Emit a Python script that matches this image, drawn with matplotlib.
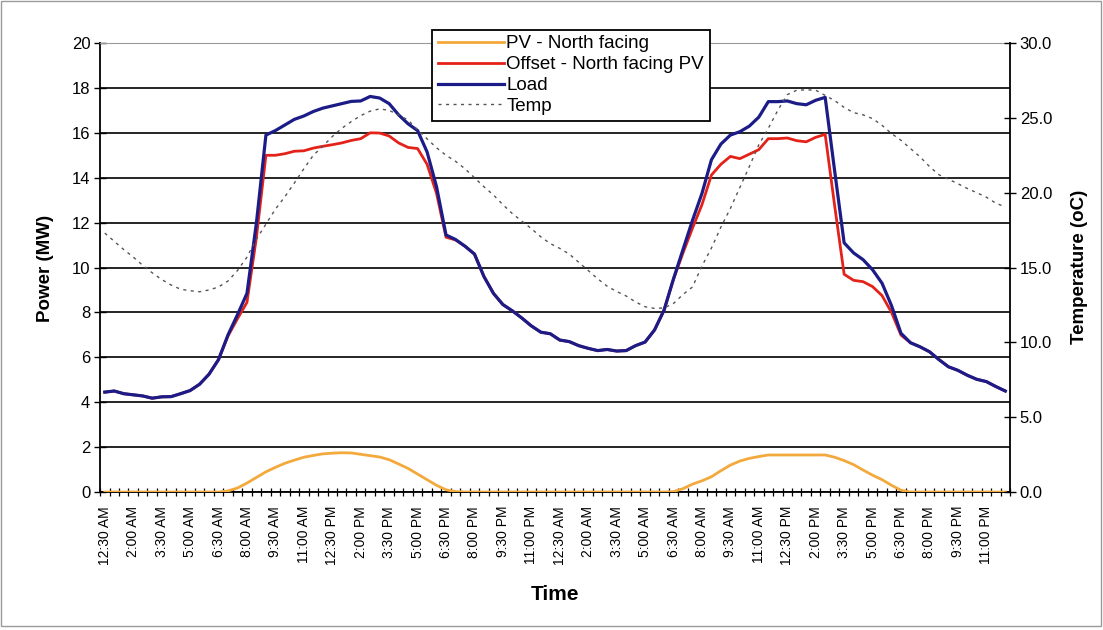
import matplotlib
matplotlib.use('Agg')
import matplotlib.pyplot as plt
from matplotlib.patches import Rectangle

plt.rcParams['font.family'] = ['Liberation Sans', 'DejaVu Sans']

# --- half-hourly data, two days (12:30 AM day 1 ... 12:00 AM day 3) ---
load_mw = [
    4.45, 4.50, 4.38, 4.33, 4.28, 4.18, 4.24, 4.25, 4.38, 4.52,
    4.80, 5.25, 5.90, 7.00, 7.90, 8.85, 12.00, 15.90, 16.10, 16.35,
    16.60, 16.75, 16.95, 17.10, 17.20, 17.30, 17.40, 17.42, 17.62, 17.55,
    17.30, 16.80, 16.40, 16.10, 15.15, 13.60, 11.45, 11.25, 10.95, 10.60,
    9.60, 8.85, 8.35, 8.07, 7.75, 7.40, 7.12, 7.05, 6.77, 6.70,
    6.52, 6.40, 6.30, 6.35, 6.28, 6.30, 6.52, 6.68, 7.22, 8.10,
    9.50, 10.80, 12.10, 13.30, 14.80, 15.50, 15.90, 16.05, 16.30, 16.70,
    17.39, 17.39, 17.42, 17.30, 17.25, 17.45, 17.58, 14.30, 11.10, 10.65,
    10.35, 9.90, 9.30, 8.30, 7.07, 6.65, 6.47, 6.25, 5.90, 5.58,
    5.42, 5.20, 5.02, 4.92, 4.70, 4.50,
]

pv_mw = [
    0, 0, 0, 0, 0, 0, 0, 0, 0, 0,
    0, 0, 0, 0.05, 0.18, 0.40, 0.65, 0.90, 1.10, 1.28,
    1.42, 1.55, 1.63, 1.70, 1.73, 1.75, 1.74, 1.68, 1.62, 1.56,
    1.44, 1.25, 1.05, 0.80, 0.55, 0.30, 0.10, 0.02, 0, 0,
    0, 0, 0, 0, 0, 0, 0, 0, 0, 0,
    0, 0, 0, 0, 0, 0, 0, 0, 0, 0,
    0.02, 0.15, 0.35, 0.50, 0.68, 0.95, 1.20, 1.38, 1.50, 1.58,
    1.65, 1.65, 1.65, 1.65, 1.65, 1.65, 1.65, 1.55, 1.40, 1.22,
    0.98, 0.75, 0.55, 0.30, 0.08, 0, 0, 0, 0, 0,
    0, 0, 0, 0, 0, 0,
]

offset_mw = [
    4.45, 4.50, 4.38, 4.33, 4.28, 4.18, 4.24, 4.25, 4.38, 4.52,
    4.80, 5.25, 5.90, 6.95, 7.72, 8.45, 11.35, 15.00, 15.00, 15.07,
    15.18, 15.20, 15.32, 15.40, 15.47, 15.55, 15.66, 15.74, 16.00, 15.99,
    15.86, 15.55, 15.35, 15.30, 14.60, 13.30, 11.35, 11.23, 10.95, 10.60,
    9.60, 8.85, 8.35, 8.07, 7.75, 7.40, 7.12, 7.05, 6.77, 6.70,
    6.52, 6.40, 6.30, 6.35, 6.28, 6.30, 6.52, 6.68, 7.22, 8.10,
    9.48, 10.65, 11.75, 12.80, 14.12, 14.60, 14.95, 14.85, 15.05, 15.25,
    15.74, 15.74, 15.77, 15.65, 15.60, 15.80, 15.93, 12.75, 9.70, 9.43,
    9.37, 9.15, 8.75, 8.00, 6.99, 6.65, 6.47, 6.25, 5.90, 5.58,
    5.42, 5.20, 5.02, 4.92, 4.70, 4.50,
]

temp_c = [
    17.30, 16.75, 16.20, 15.70, 15.15, 14.65, 14.20, 13.83, 13.55, 13.45,
    13.38, 13.50, 13.70, 14.10, 14.80, 15.70, 16.90, 17.90, 18.90, 19.73,
    20.65, 21.60, 22.50, 23.10, 23.75, 24.30, 24.75, 25.15, 25.45, 25.60,
    25.50, 25.20, 24.85, 24.20, 23.60, 23.00, 22.50, 22.10, 21.60, 21.00,
    20.40, 19.85, 19.20, 18.60, 18.10, 17.60, 17.05, 16.60, 16.28, 15.90,
    15.35, 14.80, 14.25, 13.75, 13.40, 13.10, 12.70, 12.38, 12.27, 12.30,
    12.60, 13.20, 13.70, 15.10, 16.30, 17.70, 18.95, 20.35, 21.75, 23.20,
    24.30, 25.50, 26.55, 26.85, 26.87, 26.85, 26.50, 26.15, 25.70, 25.35,
    25.20, 24.95, 24.50, 23.95, 23.50, 22.95, 22.40, 21.75, 21.20, 20.90,
    20.60, 20.28, 20.00, 19.70, 19.30, 19.05,
]

day_labels = ['12:30 AM', '2:00 AM', '3:30 AM', '5:00 AM', '6:30 AM', '8:00 AM',
              '9:30 AM', '11:00 AM', '12:30 PM', '2:00 PM', '3:30 PM', '5:00 PM',
              '6:30 PM', '8:00 PM', '9:30 PM', '11:00 PM']
time_labels = day_labels + day_labels

x = list(range(len(load_mw)))

fig = plt.figure(figsize=(11.03, 6.30), dpi=100)
fig.patches.append(Rectangle((0.001, 0.006), 0.997, 0.992, transform=fig.transFigure,
                             fill=False, edgecolor='#9a9a9a', linewidth=1.0))

ax = fig.add_axes([0.0907, 0.219, 0.825, 0.7127])
ax2 = ax.twinx()

c_pv = '#f3a93c'
c_off = '#e32219'
c_load = '#1c1c88'

l_pv, = ax.plot(x, pv_mw, color=c_pv, lw=2.0, zorder=3)
l_off, = ax.plot(x, offset_mw, color=c_off, lw=2.0, zorder=4)
l_load, = ax.plot(x, load_mw, color=c_load, lw=2.3, zorder=5)
l_temp, = ax2.plot(x, temp_c, color='#555555', lw=1.0, dashes=(2.2, 3.2))

# left axis: power
ax.set_xlim(-0.5, len(x) - 0.5)
ax.set_ylim(0, 20)
ax.set_yticks(range(0, 21, 2))
ax.tick_params(axis='y', direction='inout', length=8, width=1, labelsize=12, pad=3)
ax.grid(axis='y', color='black', lw=1.2)
ax.get_ygridlines()[-1].set_color('#9a9a9a')
ax.set_axisbelow(True)

# x axis: a tick at every half-hour boundary, label every 3rd slot
ax.set_xticks([i - 0.5 for i in range(len(x) + 1)])
ax.set_xticklabels([])
ax.tick_params(axis='x', which='major', direction='inout', length=6, width=0.9)
ax.set_xticks(list(range(0, len(x), 3)), minor=True)
ax.set_xticklabels(time_labels, minor=True, rotation=90, fontsize=10)
ax.tick_params(axis='x', which='minor', length=0, pad=10)

for side in ('left', 'bottom'):
    ax.spines[side].set_color('black')
    ax.spines[side].set_linewidth(1.3)
ax.spines['top'].set_color('#9a9a9a')
ax.spines['right'].set_visible(False)

# right axis: temperature
ax2.set_ylim(0, 30)
ax2.set_yticks(range(0, 31, 5))
ax2.set_yticklabels([f'{v:.1f}' for v in range(0, 31, 5)])
ax2.tick_params(axis='y', direction='inout', length=8, width=1, labelsize=12, pad=3)
ax2.spines['right'].set_color('black')
ax2.spines['right'].set_linewidth(1.3)
for side in ('left', 'top', 'bottom'):
    ax2.spines[side].set_visible(False)

fig.text(0.041, 0.574, 'Power (MW)', rotation=90, ha='center', va='center',
         fontsize=13.5, fontweight='bold')
fig.text(0.979, 0.577, 'Temperature (oC)', rotation=90, ha='center', va='center',
         fontsize=13.5, fontweight='bold')
fig.text(0.503, 0.056, 'Time', ha='center', va='center', fontsize=15, fontweight='bold')

leg = fig.legend([l_pv, l_off, l_load, l_temp],
                 ['PV - North facing', 'Offset - North facing PV', 'Load', 'Temp'],
                 loc='upper left', bbox_to_anchor=(0.392, 0.953), fontsize=13.5,
                 handlelength=3.5, handletextpad=0.15, labelspacing=0.2,
                 borderpad=0.3, borderaxespad=0, fancybox=False, framealpha=1,
                 edgecolor='black')
leg.get_frame().set_linewidth(1.3)

fig.savefig('out.png', dpi=100)
